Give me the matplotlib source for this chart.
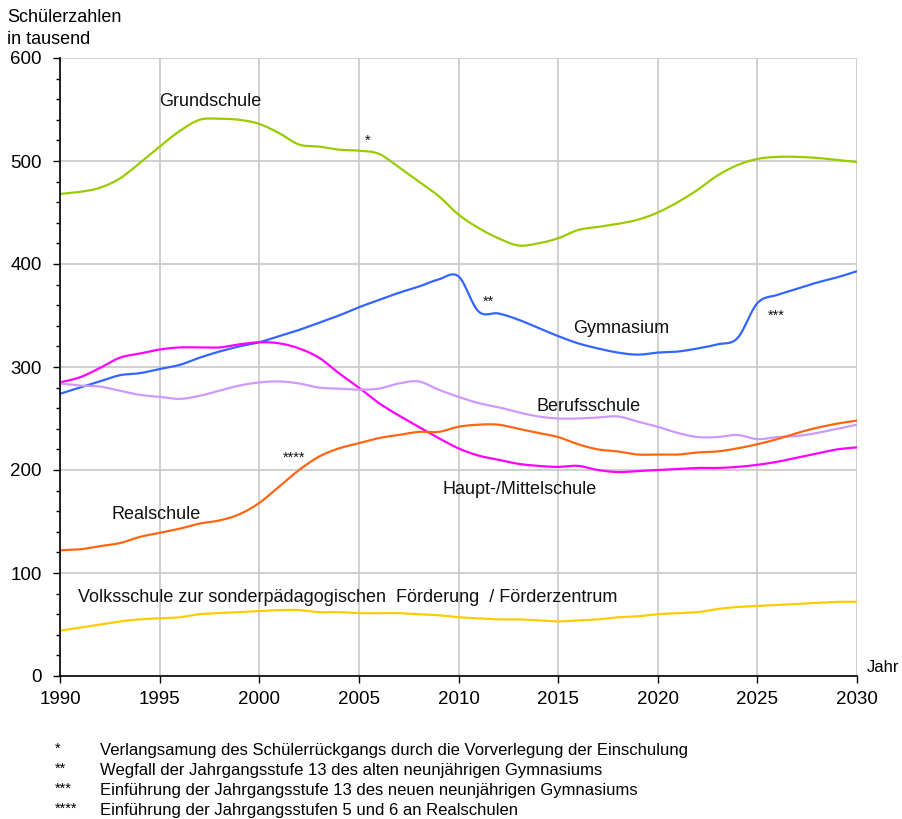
import numpy as np
import matplotlib
matplotlib.use("Agg")
import matplotlib.pyplot as plt
from matplotlib.ticker import MultipleLocator

plt.rcParams['font.family'] = ['Liberation Sans', 'DejaVu Sans']

years = list(range(1990, 2031))

grundschule = [468, 470, 474, 483, 498, 514, 529, 540, 541, 540,
               536, 527, 516, 514, 511, 510, 507, 494, 480, 466,
               448, 435, 425, 418, 420, 425, 433, 436, 439, 443,
               450, 460, 472, 486, 496, 502, 504, 504, 503, 501, 499]
gymnasium = [274, 280, 286, 292, 294, 298, 302, 309, 315, 320,
             324, 330, 336, 343, 350, 358, 365, 372, 378, 385,
             388, 354, 352, 346, 338, 330, 323, 318, 314, 312,
             314, 315, 318, 322, 328, 362, 370, 376, 382, 387, 393]
haupt = [285, 290, 299, 309, 313, 317, 319, 319, 319, 322,
         324, 323, 318, 309, 294, 280, 265, 253, 242, 231,
         221, 214, 210, 206, 204, 203, 204, 200, 198, 199,
         200, 201, 202, 202, 203, 205, 208, 212, 216, 220, 222]
berufs = [284, 282, 281, 277, 273, 271, 269, 272, 277, 282,
          285, 286, 284, 280, 279, 278, 279, 284, 286, 278,
          271, 265, 261, 256, 252, 250, 250, 251, 252, 247,
          242, 236, 232, 232, 234, 230, 232, 233, 236, 240, 244]
real = [122, 123, 126, 129, 135, 139, 143, 148, 151, 157,
        168, 184, 200, 213, 221, 226, 231, 234, 237, 237,
        242, 244, 244, 240, 236, 232, 225, 220, 218, 215,
        215, 215, 217, 218, 221, 225, 230, 236, 241, 245, 248]
volks = [44, 47, 50, 53, 55, 56, 57, 60, 61, 62,
         63, 64, 64, 62, 62, 61, 61, 61, 60, 59,
         57, 56, 55, 55, 54, 53, 54, 55, 57, 58,
         60, 61, 62, 65, 67, 68, 69, 70, 71, 72, 72]

series = [
    (grundschule, '#99cc00'),
    (gymnasium, '#3366ff'),
    (haupt, '#ff00ff'),
    (berufs, '#cc99ff'),
    (real, '#ff6611'),
    (volks, '#ffcc00'),
]

labels = [
    ("Grundschule", 1995, 558),
    ("Gymnasium", 2015.75, 337),
    ("Berufsschule", 2013.9, 262),
    ("Realschule", 1992.6, 157),
    ("Haupt-/Mittelschule", 2009.2, 181),
    ("Volksschule zur sonderpädagogischen  Förderung  / Förderzentrum", 1990.9, 76),
]
stars = [("*", 2005.3, 520), ("**", 2011.2, 363), ("***", 2025.5, 350), ("****", 2001.2, 212)]

footnotes = [
    ("*", "Verlangsamung des Schülerrückgangs durch die Vorverlegung der Einschulung"),
    ("**", "Wegfall der Jahrgangsstufe 13 des alten neunjährigen Gymnasiums"),
    ("***", "Einführung der Jahrgangsstufe 13 des neuen neunjährigen Gymnasiums"),
    ("****", "Einführung der Jahrgangsstufen 5 und 6 an Realschulen"),
]


def smooth(x, y, n=12):
    x = np.asarray(x, float)
    y = np.asarray(y, float)
    px = np.concatenate([[2 * x[0] - x[1]], x, [2 * x[-1] - x[-2]]])
    py = np.concatenate([[2 * y[0] - y[1]], y, [2 * y[-1] - y[-2]]])
    xs, ys = [], []
    t = np.linspace(0, 1, n, endpoint=False)
    for i in range(1, len(px) - 2):
        p0, p1, p2, p3 = py[i - 1], py[i], py[i + 1], py[i + 2]
        yy = 0.5 * ((2 * p1) + (-p0 + p2) * t + (2 * p0 - 5 * p1 + 4 * p2 - p3) * t ** 2
                    + (-p0 + 3 * p1 - 3 * p2 + p3) * t ** 3)
        xx = px[i] + (px[i + 1] - px[i]) * t
        xs.append(xx)
        ys.append(yy)
    xs.append([x[-1]])
    ys.append([y[-1]])
    return np.concatenate(xs), np.concatenate(ys)


fig = plt.figure(figsize=(9.02, 8.19), dpi=100)
ax = fig.add_axes([60 / 902, 1 - 676 / 819, (857 - 60) / 902, (676 - 58) / 819])

for vals, col in series:
    sx, sy = smooth(years, vals)
    ax.plot(sx, sy, color=col, lw=1.6, solid_capstyle='round', zorder=3)

ax.set_xlim(1990, 2030)
ax.set_ylim(0, 600)
ax.xaxis.set_major_locator(MultipleLocator(5))
ax.yaxis.set_major_locator(MultipleLocator(100))
ax.yaxis.set_minor_locator(MultipleLocator(20))
ax.grid(True, which='major', color='#c8c8c8', lw=1.2, zorder=0)
for s in ['top', 'right']:
    ax.spines[s].set_visible(False)
for s in ['left', 'bottom']:
    ax.spines[s].set_color('black')
    ax.spines[s].set_linewidth(1.2)
    ax.spines[s].set_zorder(4)
ax.tick_params(axis='both', which='major', direction='out', length=5, width=1.0, labelsize=13.5,
               color='black', labelcolor='black')
ax.tick_params(axis='y', which='minor', direction='out', length=3, width=1.0)
ax.tick_params(axis='y', pad=8)
ax.tick_params(axis='x', pad=6)

for txt, x, y in labels:
    ax.text(x, y, txt, fontsize=13, ha='left', va='center', color='#111111', zorder=5)
for txt, x, y in stars:
    ax.text(x, y, txt, fontsize=10.5, ha='left', va='center', color='#111111', zorder=5)

fig.text(7 / 902, 1 - 17 / 819, "Schülerzahlen", fontsize=13, ha='left', va='center')
fig.text(7 / 902, 1 - 39 / 819, "in tausend", fontsize=13, ha='left', va='center')
fig.text(867 / 902, 1 - 667 / 819, "Jahr", fontsize=12, ha='left', va='center')

fy = [751, 771, 791, 811]
for (st, txt), yy in zip(footnotes, fy):
    fig.text(55 / 902, 1 - (yy - 2) / 819, st, fontsize=10.5, ha='left', va='center')
    fig.text(100 / 902, 1 - yy / 819, txt, fontsize=12, ha='left', va='center')

fig.savefig("out.png", dpi=100)
